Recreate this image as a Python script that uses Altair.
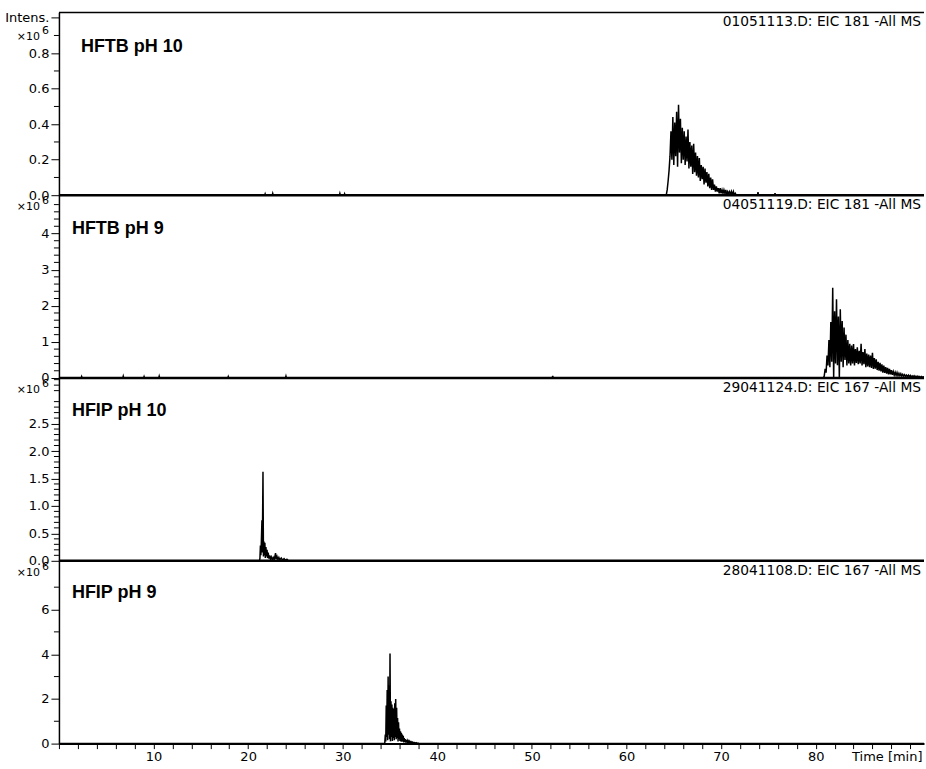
import altair as alt
import numpy as np
import pandas as pd

# Time window and panel geometry
X_MAX = 91.45
W = 866
H = 183

# ---- HFTB pH 10 : EIC 181, intensities in 10^6 counts ----
hftb10_t0, hftb10_dt = 64.2, 0.1
hftb10_vals = [0.00, 0.03, 0.08, 0.14, 0.22, 0.36, 0.20, 0.44, 0.17, 0.41,
               0.22, 0.47, 0.16, 0.51, 0.24, 0.43, 0.18, 0.38, 0.20, 0.36,
               0.17, 0.33, 0.19, 0.37, 0.15, 0.30, 0.16, 0.28, 0.12, 0.29,
               0.13, 0.24, 0.11, 0.22, 0.10, 0.21, 0.08, 0.17, 0.09, 0.16,
               0.06, 0.15, 0.07, 0.13, 0.05, 0.12, 0.04, 0.10, 0.03, 0.09,
               0.03, 0.06, 0.02, 0.05, 0.02, 0.04, 0.01, 0.04, 0.01, 0.03,
               0.01, 0.03, 0.01, 0.03, 0.00, 0.02, 0.01, 0.02, 0.00, 0.02,
               0.00, 0.02, 0.00, 0.01, 0.00]
hftb10_blip_t = [21.8, 22.6, 29.7, 30.2, 73.9, 75.7]
hftb10_blip_v = [0.008, 0.010, 0.010, 0.008, 0.017, 0.012]

# ---- HFTB pH 9 : EIC 181 ----
hftb9_t0, hftb9_dt = 80.8, 0.1
hftb9_vals = [0.00, 0.05, 0.25, 0.15, 0.62, 0.35, 1.05, 0.30, 1.55, 0.45,
              2.50, 0.00, 1.85, 0.40, 2.18, 0.35, 1.70, 0.00, 1.90, 0.45,
              1.58, 0.30, 1.40, 0.50, 1.20, 0.35, 1.05, 0.40, 0.95, 0.35,
              0.90, 0.40, 0.94, 0.35, 0.80, 0.42, 0.85, 0.38, 0.75, 0.40,
              0.95, 0.35, 0.72, 0.38, 0.80, 0.30, 0.68, 0.32, 0.65, 0.30,
              0.62, 0.28, 0.70, 0.25, 0.55, 0.26, 0.52, 0.22, 0.45, 0.20,
              0.42, 0.18, 0.38, 0.15, 0.34, 0.14, 0.30, 0.12, 0.28, 0.10,
              0.25, 0.10, 0.22, 0.09, 0.18, 0.08, 0.16, 0.07, 0.15, 0.06,
              0.13, 0.06, 0.12, 0.05, 0.10, 0.05, 0.09, 0.04, 0.08, 0.04,
              0.08, 0.03, 0.07, 0.03, 0.06, 0.03, 0.06, 0.02, 0.05, 0.02,
              0.05, 0.02, 0.04, 0.02, 0.04, 0.02, 0.03, 0.02]
hftb9_blip_t = [2.4, 6.8, 9.0, 10.6, 17.9, 24.0, 52.2]
hftb9_blip_v = [0.04, 0.05, 0.04, 0.05, 0.04, 0.05, 0.06]

# ---- HFIP pH 10 : EIC 167 ----
hfip10_t = [21.20, 21.25, 21.30, 21.35, 21.40, 21.46, 21.50, 21.57, 21.62, 21.67,
            21.72, 21.77, 21.82, 21.88, 21.94, 22.00, 22.06, 22.12, 22.20, 22.28,
            22.36, 22.45, 22.55, 22.65, 22.75, 22.85, 22.90, 22.95, 23.05, 23.15,
            23.25, 23.35, 23.50, 23.65, 23.80, 23.95, 24.10, 24.25]
hfip10_v = [0.00, 0.05, 0.28, 0.10, 0.35, 0.74, 0.15, 1.62, 0.08, 0.35,
            0.10, 0.33, 0.05, 0.25, 0.08, 0.20, 0.05, 0.15, 0.04, 0.10,
            0.03, 0.07, 0.02, 0.06, 0.02, 0.10, 0.14, 0.03, 0.08, 0.02,
            0.06, 0.02, 0.05, 0.01, 0.04, 0.01, 0.03, 0.00]

# ---- HFIP pH 9 : EIC 167 ----
hfip9_t0, hfip9_dt = 34.40, 0.05
hfip9_vals = [0.00, 0.05, 0.40, 0.10, 1.70, 0.30, 2.40, 0.15, 3.00, 0.40,
              2.60, 0.20, 4.03, 0.10, 1.90, 0.30, 1.75, 0.12, 1.60, 0.25,
              1.55, 0.15, 1.80, 0.30, 2.00, 0.20, 1.60, 0.25, 1.15, 0.10,
              0.95, 0.20, 0.67, 0.12, 0.55, 0.10, 0.48, 0.08, 0.40, 0.10,
              0.35, 0.05, 0.25, 0.08, 0.20, 0.04, 0.15, 0.05, 0.12, 0.03,
              0.10, 0.03, 0.09, 0.02, 0.08, 0.02, 0.06, 0.02, 0.06, 0.01,
              0.05, 0.01, 0.04, 0.01, 0.04, 0.01, 0.03, 0.01, 0.03, 0.00,
              0.02, 0.00, 0.02, 0.00]

# Panel labels, file annotations and y-axis layout
titles = ["HFTB pH 10", "HFTB pH 9", "HFIP pH 10", "HFIP pH 9"]
files = ["01051113.D: EIC 181 -All MS", "04051119.D: EIC 181 -All MS",
         "29041124.D: EIC 167 -All MS", "28041108.D: EIC 167 -All MS"]
y_tops = [1.03, 5.06, 3.33, 8.18]
y_major = [[0.0, 0.2, 0.4, 0.6, 0.8, 1.0], [0, 1, 2, 3, 4],
           [0.0, 0.5, 1.0, 1.5, 2.0, 2.5], [0, 2, 4, 6]]
y_minor_step = [0.1, 0.2, 0.1, 1.0]
y_formats = [".1f", "d", ".1f", "d"]
x_ticks = list(range(0, 92, 2))


def trace(peak_t, peak_v, blip_t=(), blip_v=()):
    rows = [(0.0, 0.0)]
    for t, v in zip(blip_t, blip_v):
        rows += [(t - 0.05, 0.0), (t, v), (t + 0.05, 0.0)]
    rows += list(zip(peak_t, peak_v))
    if peak_t[-1] < X_MAX:
        rows.append((X_MAX, 0.0))
    df = pd.DataFrame(rows, columns=["t", "v"]).sort_values("t")
    df["t"] = df["t"].round(3)
    return df


def sampled(t0, dt, vals):
    return [round(t0 + i * dt, 3) for i in range(len(vals))]


traces = [
    trace(sampled(hftb10_t0, hftb10_dt, hftb10_vals), hftb10_vals, hftb10_blip_t, hftb10_blip_v),
    trace(sampled(hftb9_t0, hftb9_dt, hftb9_vals), hftb9_vals, hftb9_blip_t, hftb9_blip_v),
    trace(hfip10_t, hfip10_v),
    trace(sampled(hfip9_t0, hfip9_dt, hfip9_vals), hfip9_vals),
]

title_pos = [(22, 40), (13, 39), (13, 38), (13, 37)]
exp_pos = [25, 12, 12, 12]


def text_layer(label, x, y, **kw):
    return alt.Chart(pd.DataFrame({"s": [label]})).mark_text(**kw).encode(
        text="s:N", x=alt.value(x), y=alt.value(y))


def panel(i):
    last = i == 3
    top = y_tops[i]
    step = y_minor_step[i]
    major_step = y_major[i][1] - y_major[i][0]
    minor = [round(v, 2) for v in np.arange(step, top, step)
             if abs(v / major_step - round(v / major_step)) > 1e-6]
    if i == 0:
        label_expr = "datum.value >= 0.99 ? 'Intens.' : format(datum.value, '.1f')"
    else:
        label_expr = f"format(datum.value, '{y_formats[i]}')"

    y_scale = alt.Scale(domain=[0, top], nice=False)
    y_axis = alt.Axis(values=y_major[i], labelExpr=label_expr, tickSize=8, labelPadding=2,
                      domainWidth=1.5, grid=False, title=None, labelOverlap=False)
    if last:
        x_axis = alt.Axis(values=x_ticks,
                          labelExpr="datum.value % 10 == 0 && datum.value > 0 && datum.value < 90 ? datum.value : ''",
                          tickSize=5, labelPadding=2, domainWidth=2, grid=False, labelOverlap=False,
                          labelFlush=False, title="Time [min]", titleX=W - 2, titleY=7,
                          titleAlign="right", titleBaseline="top", titleFontWeight="normal",
                          titleFontSize=13, titleFont="DejaVu Sans")
    else:
        x_axis = None

    line = alt.Chart(traces[i]).mark_line(color="black", strokeWidth=1.5, clip=True).encode(
        x=alt.X("t:Q", scale=alt.Scale(domain=[0, X_MAX], nice=False, zero=False), axis=x_axis),
        y=alt.Y("v:Q", scale=y_scale, axis=y_axis),
    )
    minor_ticks = alt.Chart(pd.DataFrame({"v": minor})).mark_rule(color="black", strokeWidth=1).encode(
        x=alt.value(-5), x2=alt.value(0), y=alt.Y("v:Q", scale=y_scale, axis=y_axis))

    layers = [line, minor_ticks]
    if not last:
        layers.append(alt.Chart(pd.DataFrame({"a": [0]})).mark_rule(color="black", strokeWidth=2.6).encode(
            x=alt.value(0), x2=alt.value(W), y=alt.value(H)))
    if i == 0:
        layers.append(alt.Chart(pd.DataFrame({"a": [0]})).mark_rule(color="black", strokeWidth=1.5).encode(
            x=alt.value(0), x2=alt.value(W), y=alt.value(0)))

    tx, ty = title_pos[i]
    layers.append(text_layer(titles[i], tx, ty, font="Liberation Sans", fontSize=18, fontWeight="bold",
                             align="left", baseline="alphabetic", color="black"))
    layers.append(text_layer(files[i], W - 3, 10, font="DejaVu Sans", fontSize=13.8, align="right",
                             baseline="middle", color="black"))
    ey = exp_pos[i]
    layers.append(text_layer("×10", -19, ey, font="DejaVu Sans", fontSize=11, align="right",
                             baseline="middle", color="black"))
    layers.append(text_layer("6", -10, ey - 6, font="DejaVu Sans", fontSize=11, align="right",
                             baseline="middle", color="black"))

    return alt.layer(*layers).properties(width=W, height=H)


chart = alt.vconcat(*[panel(i) for i in range(4)], spacing=0, bounds="flush").properties(
    padding={"left": 4, "top": 11, "right": 0, "bottom": 0}
).configure_view(stroke=None).configure_axis(
    labelFont="DejaVu Sans", labelFontSize=13, labelColor="black",
    domainColor="black", tickColor="black", tickWidth=1,
)

chart.save("out.html", embed_options={"renderer": "svg", "actions": False})
